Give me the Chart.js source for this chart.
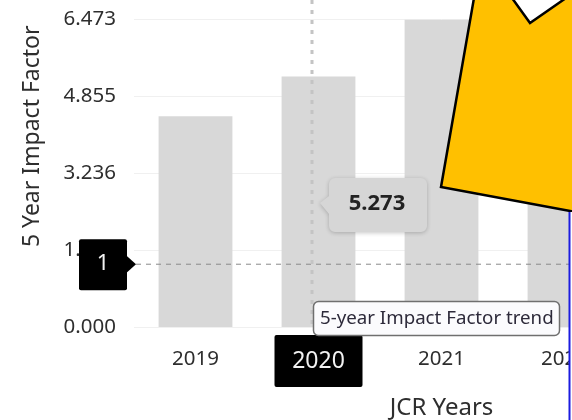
<!DOCTYPE html>
<html>
<head>
<meta charset="utf-8">
<script src="https://cdn.jsdelivr.net/npm/chart.js@4"></script>
<style>
  html, body { margin: 0; padding: 0; background: #fff; overflow: hidden; width: 572px; height: 420px; }
  #wrap { position: relative; width: 572px; height: 420px; overflow: hidden; }
  #wrap canvas { position: absolute; left: 0; top: 0; filter: blur(0.4px); }
</style>
</head>
<body>
<div id="wrap"><canvas id="chart" width="764" height="420"></canvas></div>
<script>
const years = ['2019', '2020', '2021', '2022', '2023'];
const impactFactors = [4.44, 5.273, 6.473, 5.9, null];
const yTicks = [0, 1.618, 3.236, 4.855, 6.473];
const yTickLabels = ['0.000', '1.618', '3.236', '4.855', '6.473'];
const hoverYear = '2020';
const hoverValue = 5.273;
const crosshairValue = 1.33;
const crosshairLabel = '1';
const titleTip = '5-year Impact Factor trend';

const FONT = '"Noto Sans", sans-serif';

function roundBox(ctx, x, y, w, h, r) {
  ctx.beginPath();
  ctx.roundRect(x, y, w, h, r);
}

const overlays = {
  id: 'overlays',
  afterDraw(chart) {
    const { ctx, scales: { x, y } } = chart;
    const lineY = y.getPixelForValue(crosshairValue);
    const barX = x.getPixelForValue(hoverYear);
    const valueY = 205;
    ctx.save();

    // crosshair
    ctx.strokeStyle = '#8a8a8a';
    ctx.lineWidth = 1;
    ctx.setLineDash([5, 5]);
    ctx.beginPath();
    ctx.moveTo(136, lineY);
    ctx.lineTo(572, lineY);
    ctx.stroke();

    ctx.strokeStyle = '#c4c4c4';
    ctx.lineWidth = 3;
    ctx.setLineDash([4, 6]);
    ctx.beginPath();
    ctx.moveTo(barX - 6.5, 0);
    ctx.lineTo(barX - 6.5, 327);
    ctx.stroke();
    ctx.setLineDash([]);

    // black tags
    ctx.fillStyle = '#000';
    roundBox(ctx, 79, lineY - 25, 48, 51, 2);
    ctx.fill();
    ctx.beginPath();
    ctx.moveTo(126, lineY - 9);
    ctx.lineTo(136, lineY);
    ctx.lineTo(126, lineY + 9);
    ctx.fill();
    roundBox(ctx, barX - 44, 335, 88, 52, 2);
    ctx.fill();

    ctx.fillStyle = '#f2f2f2';
    ctx.font = '22px ' + FONT;
    ctx.textAlign = 'center';
    ctx.textBaseline = 'middle';
    ctx.fillText(crosshairLabel, 103, lineY);
    ctx.font = '23px ' + FONT;
    ctx.fillText(hoverYear, barX, 361);

    // value tooltip
    ctx.shadowColor = 'rgba(0,0,0,0.22)';
    ctx.shadowBlur = 4;
    ctx.shadowOffsetY = 1;
    ctx.fillStyle = '#d6d6d6';
    ctx.beginPath();
    ctx.roundRect(329, 178, 98, 54, 6);
    ctx.moveTo(329, valueY - 9);
    ctx.lineTo(320, valueY - 2);
    ctx.lineTo(329, valueY + 9);
    ctx.fill();
    ctx.shadowColor = 'transparent';
    ctx.fillStyle = '#222';
    ctx.font = 'bold 22px ' + FONT;
    ctx.fillText(hoverValue.toFixed(3), 377, 204);

    // browser title tip
    ctx.fillStyle = '#fbfbfd';
    ctx.strokeStyle = '#6f6f6f';
    ctx.lineWidth = 1.5;
    roundBox(ctx, 313.5, 301.5, 246, 34, 5);
    ctx.fill();
    ctx.stroke();
    ctx.fillStyle = '#2d2a3a';
    ctx.font = '18.7px ' + FONT;
    ctx.textAlign = 'left';
    ctx.fillText(titleTip, 320, 319);

    // yellow callout
    ctx.fillStyle = '#ffc000';
    ctx.strokeStyle = '#000';
    ctx.lineWidth = 2.5;
    ctx.beginPath();
    ctx.moveTo(441, 187);
    ctx.lineTo(474, -2);
    ctx.lineTo(512, -2);
    ctx.lineTo(530, 23);
    ctx.lineTo(566, -2);
    ctx.lineTo(640, -2);
    ctx.lineTo(640, 224);
    ctx.closePath();
    ctx.fill();
    ctx.stroke();

    // blue edge at the right
    ctx.fillStyle = '#fff';
    ctx.fillRect(570, 212, 4, 210);
    ctx.fillStyle = '#1c1ce0';
    ctx.fillRect(568.5, 212, 2, 210);
    ctx.restore();
  }
};

new Chart(document.getElementById('chart'), {
  type: 'bar',
  data: {
    labels: years,
    datasets: [{
      data: impactFactors,
      backgroundColor: '#d8d8d8',
      borderWidth: 0,
      categoryPercentage: 0.6,
      barPercentage: 1,
    }]
  },
  options: {
    responsive: false,
    animation: false,
    layout: { padding: { top: 19.5, right: 15, left: 0, bottom: 0 } },
    plugins: { legend: { display: false }, tooltip: { enabled: false } },
    scales: {
      x: {
        grid: { display: false },
        border: { display: false },
        ticks: { color: '#2e2e2e', font: { family: FONT, size: 20.5 }, padding: 11, maxRotation: 0 },
        title: { display: true, text: 'JCR Years', color: '#2e2e2e', font: { family: FONT, size: 24 }, padding: { top: 9, bottom: -3 } },
        afterFit: s => { s.height = 92.5; },
      },
      y: {
        min: 0,
        max: 6.473,
        // tick padding also pushes the plot top down, so the gap comes from a clear tick mark
        grid: { color: '#f0f0f0', tickColor: 'transparent', tickLength: 18 },
        border: { display: false },
        afterBuildTicks: s => { s.ticks = yTicks.map(v => ({ value: v })); },
        ticks: {
          color: '#2e2e2e',
          font: { family: FONT, size: 20.5 },
          padding: 0,
          callback: v => yTickLabels[yTicks.indexOf(v)],
        },
        title: { display: true, text: '5 Year Impact Factor ', align: 'end', color: '#2e2e2e', font: { family: FONT, size: 23 }, padding: { top: 19, bottom: 0 } },
        afterFit: s => { s.width = 134; },
      }
    }
  },
  plugins: [overlays]
});
</script>
</body>
</html>
